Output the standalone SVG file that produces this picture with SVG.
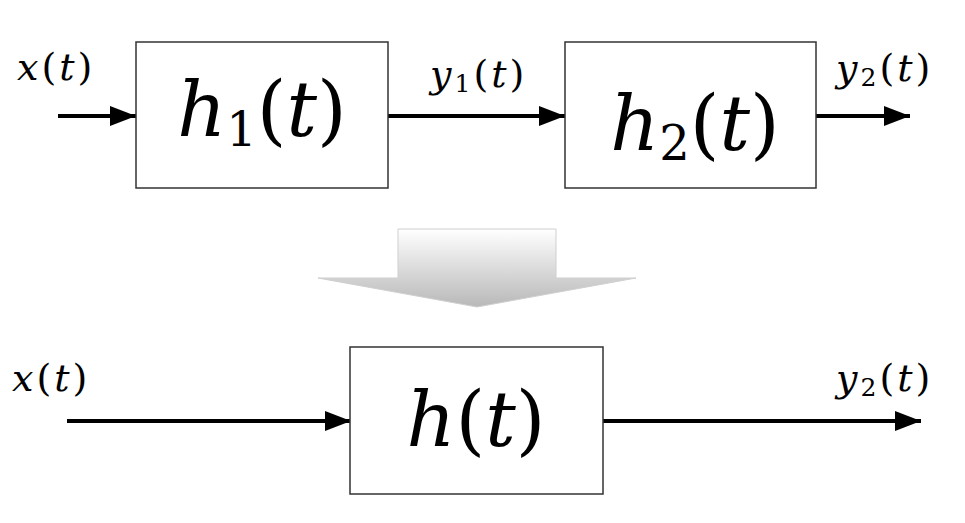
<svg xmlns="http://www.w3.org/2000/svg" width="965" height="523" viewBox="0 0 965 523">
<style>
.box{fill:#fff;stroke:#333;stroke-width:1.5}
.wire{stroke:#000;stroke-width:4;fill:none}
.sm{letter-spacing:3px}
</style>
<defs>
<marker id="ah" markerWidth="26" markerHeight="20" refX="26" refY="10" orient="auto" markerUnits="userSpaceOnUse">
<path d="M0,0 L26,10 L0,20 Z" fill="#000"/>
</marker>
<linearGradient id="g" x1="0" y1="0" x2="0" y2="1">
<stop offset="0" stop-color="#ffffff"/>
<stop offset="1" stop-color="#b8b8b8"/>
</linearGradient>
</defs>
<g id="connectors">
<line class="wire" x1="58" y1="116" x2="136" y2="116" marker-end="url(#ah)"/>
<line class="wire" x1="388" y1="116" x2="565" y2="116" marker-end="url(#ah)"/>
<line class="wire" x1="816" y1="116" x2="910" y2="116" marker-end="url(#ah)"/>
<line class="wire" x1="67" y1="421" x2="351" y2="421" marker-end="url(#ah)"/>
<line class="wire" x1="603" y1="421" x2="921" y2="421" marker-end="url(#ah)"/>
</g>
<g font-family="DejaVu Serif, Liberation Serif, serif" fill="#000">
<g id="h1">
<rect class="box" x="136" y="42" width="252" height="146"/>
<text x="262" y="136" font-size="76" text-anchor="middle"><tspan font-style="italic">h</tspan><tspan font-size="48" dy="10">1</tspan><tspan dy="-10">(</tspan><tspan font-style="italic">t</tspan>)</text>
</g>
<g id="h2">
<rect class="box" x="565" y="42" width="251" height="146"/>
<text x="695" y="150" font-size="76" text-anchor="middle"><tspan font-style="italic">h</tspan><tspan font-size="48" dy="10">2</tspan><tspan dy="-10">(</tspan><tspan font-style="italic">t</tspan>)</text>
</g>
<g id="h">
<rect class="box" x="350" y="347" width="253" height="147"/>
<text x="476" y="446" font-size="76" text-anchor="middle"><tspan font-style="italic">h</tspan>(<tspan font-style="italic">t</tspan>)</text>
</g>
<g id="labels">
<text class="sm" x="17" y="80" font-size="38"><tspan font-style="italic">x</tspan>(<tspan font-style="italic">t</tspan>)</text>
<text class="sm" x="430" y="87" font-size="38"><tspan font-style="italic">y</tspan><tspan font-size="25" dy="5">1</tspan><tspan dy="-5">(</tspan><tspan font-style="italic">t</tspan>)</text>
<text class="sm" x="836" y="81" font-size="38"><tspan font-style="italic">y</tspan><tspan font-size="25" dy="5">2</tspan><tspan dy="-5">(</tspan><tspan font-style="italic">t</tspan>)</text>
<text class="sm" x="12" y="391" font-size="38"><tspan font-style="italic">x</tspan>(<tspan font-style="italic">t</tspan>)</text>
<text class="sm" x="836" y="391" font-size="38"><tspan font-style="italic">y</tspan><tspan font-size="25" dy="5">2</tspan><tspan dy="-5">(</tspan><tspan font-style="italic">t</tspan>)</text>
</g>
</g>
<g id="bigArrow">
<path d="M398,229 L556,229 L556,278 L636,278 L477,307 L318,278 L398,278 Z" fill="url(#g)" stroke="#cfcfcf" stroke-width="1"/>
</g>
</svg>
